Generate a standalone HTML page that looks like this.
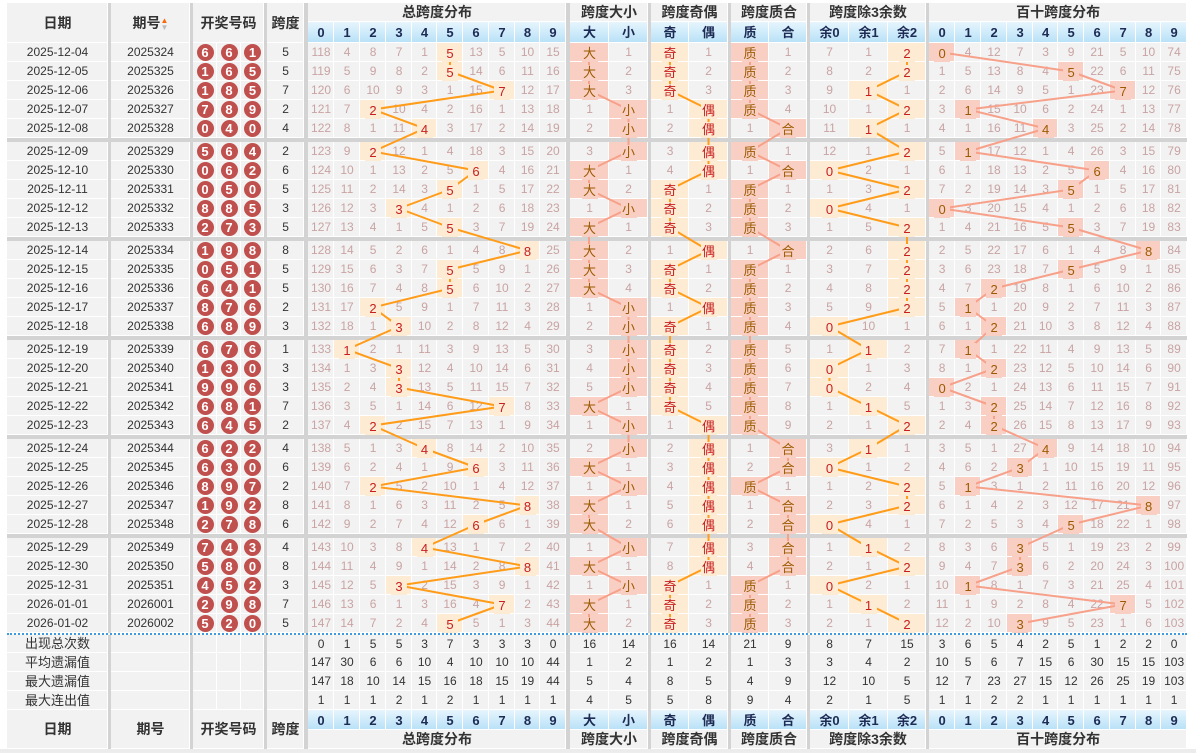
<!DOCTYPE html>
<html><head><meta charset="utf-8"><style>
body{margin:0;width:1196px;height:753px;background:#fff;position:relative;overflow:hidden;font-family:"Liberation Sans","Noto Sans CJK SC",sans-serif}
table{position:absolute;left:7px;top:3px;border-collapse:separate;border-spacing:0;table-layout:fixed;width:1180px}
td{padding:0;height:19px;background:#f2f2f2;text-align:center;font-size:12px;color:#c9a3a3;box-shadow:inset -1px -1px 0 #fff;white-space:nowrap;overflow:hidden;line-height:19px}
td.p{background:#d3d3d3;box-shadow:none}
td.d{color:#333}
td.a{background:#fdebd3;color:#c81e1e;font-size:13px}
td.b{background:#f9cfc4;color:#9c5a00;font-size:13px}
td b{font-weight:normal;position:relative;z-index:3;display:inline-block;width:16px;height:16px;line-height:16px;background:inherit;vertical-align:middle}
i{display:inline-block;width:17px;height:17px;border-radius:50%;background:#c0504d;color:#fff;font-style:normal;font-weight:bold;font-size:13px;line-height:17px;vertical-align:middle}
tr.g td{height:4px;line-height:0;font-size:0;background:#d3d3d3;box-shadow:none}
tr.dot td{height:0px;line-height:0;font-size:0;background:#fff;box-shadow:none;border-top:2px dotted #3d9be0}
td.h{font-weight:bold;font-size:14px;color:#333}
tr.n td{height:20px;background:linear-gradient(#e6f5fd,#b7e1f7);font-weight:bold;font-size:13px;color:#1d2b55}
tr.n td.p{background:#d3d3d3}
tr.n td.h{background:#f2f2f2;color:#333;font-size:14px}
tr.top td{height:21px}
tr.s td{color:#333;height:19px}
tr.s.f td{height:18px;line-height:18px}
tr.s td.p{background:#d3d3d3}
.ar{display:inline-block;width:8px;font-size:8px;line-height:7px;vertical-align:middle}
svg{position:absolute;left:0;top:0;z-index:2}
.bot{position:absolute;left:0;top:749px;width:1196px;height:4px;background:#ececec}
</style></head><body>
<table>
<colgroup><col style="width:101px"><col style="width:3px"><col style="width:79px"><col style="width:3px"><col style="width:24px"><col style="width:24px"><col style="width:23px"><col style="width:3px"><col style="width:37px"><col style="width:4px"><col style="width:26px"><col style="width:26px"><col style="width:26px"><col style="width:26px"><col style="width:25px"><col style="width:26px"><col style="width:26px"><col style="width:26px"><col style="width:25px"><col style="width:26px"><col style="width:4px"><col style="width:39px"><col style="width:39px"><col style="width:3px"><col style="width:38px"><col style="width:39px"><col style="width:3px"><col style="width:38px"><col style="width:38px"><col style="width:3px"><col style="width:39px"><col style="width:39px"><col style="width:38px"><col style="width:3px"><col style="width:26px"><col style="width:26px"><col style="width:26px"><col style="width:26px"><col style="width:25px"><col style="width:26px"><col style="width:26px"><col style="width:26px"><col style="width:25px"><col style="width:26px"></colgroup>
<tr><td rowspan=2 class=h>日期</td><td rowspan=2 class=p></td><td rowspan=2 class=h>期号<span class=ar><span style="color:#f60">▲</span><br><span style="color:#bbb">▼</span></span></td><td rowspan=2 class=p></td><td rowspan=2 colspan=3 class=h>开奖号码</td><td rowspan=2 class=p></td><td rowspan=2 class=h>跨度</td><td rowspan=2 class=p></td><td colspan=10 class=h>总跨度分布</td><td rowspan=2 class=p></td><td colspan=2 class=h>跨度大小</td><td rowspan=2 class=p></td><td colspan=2 class=h>跨度奇偶</td><td rowspan=2 class=p></td><td colspan=2 class=h>跨度质合</td><td rowspan=2 class=p></td><td colspan=3 class=h>跨度除3余数</td><td rowspan=2 class=p></td><td colspan=10 class=h>百十跨度分布</td></tr>
<tr class="n top"><td>0</td><td>1</td><td>2</td><td>3</td><td>4</td><td>5</td><td>6</td><td>7</td><td>8</td><td>9</td><td>大</td><td>小</td><td>奇</td><td>偶</td><td>质</td><td>合</td><td>余0</td><td>余1</td><td>余2</td><td>0</td><td>1</td><td>2</td><td>3</td><td>4</td><td>5</td><td>6</td><td>7</td><td>8</td><td>9</td></tr>

<tr><td class=d>2025-12-04</td><td class=p></td><td class=d>2025324</td><td class=p></td><td><i>6</i></td><td><i>6</i></td><td><i>1</i></td><td class=p></td><td class=d>5</td><td class=p></td><td>118</td><td>4</td><td>8</td><td>7</td><td>1</td><td class=a><b>5</b></td><td>13</td><td>5</td><td>10</td><td>15</td><td class=p></td><td class=b><b>大</b></td><td>1</td><td class=p></td><td class=a><b>奇</b></td><td>1</td><td class=p></td><td class=b><b>质</b></td><td>1</td><td class=p></td><td>7</td><td>1</td><td class=a><b>2</b></td><td class=p></td><td class=b><b>0</b></td><td>4</td><td>12</td><td>7</td><td>3</td><td>9</td><td>21</td><td>5</td><td>10</td><td>74</td></tr>
<tr><td class=d>2025-12-05</td><td class=p></td><td class=d>2025325</td><td class=p></td><td><i>1</i></td><td><i>6</i></td><td><i>5</i></td><td class=p></td><td class=d>5</td><td class=p></td><td>119</td><td>5</td><td>9</td><td>8</td><td>2</td><td class=a><b>5</b></td><td>14</td><td>6</td><td>11</td><td>16</td><td class=p></td><td class=b><b>大</b></td><td>2</td><td class=p></td><td class=a><b>奇</b></td><td>2</td><td class=p></td><td class=b><b>质</b></td><td>2</td><td class=p></td><td>8</td><td>2</td><td class=a><b>2</b></td><td class=p></td><td>1</td><td>5</td><td>13</td><td>8</td><td>4</td><td class=b><b>5</b></td><td>22</td><td>6</td><td>11</td><td>75</td></tr>
<tr><td class=d>2025-12-06</td><td class=p></td><td class=d>2025326</td><td class=p></td><td><i>1</i></td><td><i>8</i></td><td><i>5</i></td><td class=p></td><td class=d>7</td><td class=p></td><td>120</td><td>6</td><td>10</td><td>9</td><td>3</td><td>1</td><td>15</td><td class=a><b>7</b></td><td>12</td><td>17</td><td class=p></td><td class=b><b>大</b></td><td>3</td><td class=p></td><td class=a><b>奇</b></td><td>3</td><td class=p></td><td class=b><b>质</b></td><td>3</td><td class=p></td><td>9</td><td class=a><b>1</b></td><td>1</td><td class=p></td><td>2</td><td>6</td><td>14</td><td>9</td><td>5</td><td>1</td><td>23</td><td class=b><b>7</b></td><td>12</td><td>76</td></tr>
<tr><td class=d>2025-12-07</td><td class=p></td><td class=d>2025327</td><td class=p></td><td><i>7</i></td><td><i>8</i></td><td><i>9</i></td><td class=p></td><td class=d>2</td><td class=p></td><td>121</td><td>7</td><td class=a><b>2</b></td><td>10</td><td>4</td><td>2</td><td>16</td><td>1</td><td>13</td><td>18</td><td class=p></td><td>1</td><td class=b><b>小</b></td><td class=p></td><td>1</td><td class=a><b>偶</b></td><td class=p></td><td class=b><b>质</b></td><td>4</td><td class=p></td><td>10</td><td>1</td><td class=a><b>2</b></td><td class=p></td><td>3</td><td class=b><b>1</b></td><td>15</td><td>10</td><td>6</td><td>2</td><td>24</td><td>1</td><td>13</td><td>77</td></tr>
<tr><td class=d>2025-12-08</td><td class=p></td><td class=d>2025328</td><td class=p></td><td><i>0</i></td><td><i>4</i></td><td><i>0</i></td><td class=p></td><td class=d>4</td><td class=p></td><td>122</td><td>8</td><td>1</td><td>11</td><td class=a><b>4</b></td><td>3</td><td>17</td><td>2</td><td>14</td><td>19</td><td class=p></td><td>2</td><td class=b><b>小</b></td><td class=p></td><td>2</td><td class=a><b>偶</b></td><td class=p></td><td>1</td><td class=b><b>合</b></td><td class=p></td><td>11</td><td class=a><b>1</b></td><td>1</td><td class=p></td><td>4</td><td>1</td><td>16</td><td>11</td><td class=b><b>4</b></td><td>3</td><td>25</td><td>2</td><td>14</td><td>78</td></tr>
<tr class=g><td colspan=44></td></tr>
<tr><td class=d>2025-12-09</td><td class=p></td><td class=d>2025329</td><td class=p></td><td><i>5</i></td><td><i>6</i></td><td><i>4</i></td><td class=p></td><td class=d>2</td><td class=p></td><td>123</td><td>9</td><td class=a><b>2</b></td><td>12</td><td>1</td><td>4</td><td>18</td><td>3</td><td>15</td><td>20</td><td class=p></td><td>3</td><td class=b><b>小</b></td><td class=p></td><td>3</td><td class=a><b>偶</b></td><td class=p></td><td class=b><b>质</b></td><td>1</td><td class=p></td><td>12</td><td>1</td><td class=a><b>2</b></td><td class=p></td><td>5</td><td class=b><b>1</b></td><td>17</td><td>12</td><td>1</td><td>4</td><td>26</td><td>3</td><td>15</td><td>79</td></tr>
<tr><td class=d>2025-12-10</td><td class=p></td><td class=d>2025330</td><td class=p></td><td><i>0</i></td><td><i>6</i></td><td><i>2</i></td><td class=p></td><td class=d>6</td><td class=p></td><td>124</td><td>10</td><td>1</td><td>13</td><td>2</td><td>5</td><td class=a><b>6</b></td><td>4</td><td>16</td><td>21</td><td class=p></td><td class=b><b>大</b></td><td>1</td><td class=p></td><td>4</td><td class=a><b>偶</b></td><td class=p></td><td>1</td><td class=b><b>合</b></td><td class=p></td><td class=a><b>0</b></td><td>2</td><td>1</td><td class=p></td><td>6</td><td>1</td><td>18</td><td>13</td><td>2</td><td>5</td><td class=b><b>6</b></td><td>4</td><td>16</td><td>80</td></tr>
<tr><td class=d>2025-12-11</td><td class=p></td><td class=d>2025331</td><td class=p></td><td><i>0</i></td><td><i>5</i></td><td><i>0</i></td><td class=p></td><td class=d>5</td><td class=p></td><td>125</td><td>11</td><td>2</td><td>14</td><td>3</td><td class=a><b>5</b></td><td>1</td><td>5</td><td>17</td><td>22</td><td class=p></td><td class=b><b>大</b></td><td>2</td><td class=p></td><td class=a><b>奇</b></td><td>1</td><td class=p></td><td class=b><b>质</b></td><td>1</td><td class=p></td><td>1</td><td>3</td><td class=a><b>2</b></td><td class=p></td><td>7</td><td>2</td><td>19</td><td>14</td><td>3</td><td class=b><b>5</b></td><td>1</td><td>5</td><td>17</td><td>81</td></tr>
<tr><td class=d>2025-12-12</td><td class=p></td><td class=d>2025332</td><td class=p></td><td><i>8</i></td><td><i>8</i></td><td><i>5</i></td><td class=p></td><td class=d>3</td><td class=p></td><td>126</td><td>12</td><td>3</td><td class=a><b>3</b></td><td>4</td><td>1</td><td>2</td><td>6</td><td>18</td><td>23</td><td class=p></td><td>1</td><td class=b><b>小</b></td><td class=p></td><td class=a><b>奇</b></td><td>2</td><td class=p></td><td class=b><b>质</b></td><td>2</td><td class=p></td><td class=a><b>0</b></td><td>4</td><td>1</td><td class=p></td><td class=b><b>0</b></td><td>3</td><td>20</td><td>15</td><td>4</td><td>1</td><td>2</td><td>6</td><td>18</td><td>82</td></tr>
<tr><td class=d>2025-12-13</td><td class=p></td><td class=d>2025333</td><td class=p></td><td><i>2</i></td><td><i>7</i></td><td><i>3</i></td><td class=p></td><td class=d>5</td><td class=p></td><td>127</td><td>13</td><td>4</td><td>1</td><td>5</td><td class=a><b>5</b></td><td>3</td><td>7</td><td>19</td><td>24</td><td class=p></td><td class=b><b>大</b></td><td>1</td><td class=p></td><td class=a><b>奇</b></td><td>3</td><td class=p></td><td class=b><b>质</b></td><td>3</td><td class=p></td><td>1</td><td>5</td><td class=a><b>2</b></td><td class=p></td><td>1</td><td>4</td><td>21</td><td>16</td><td>5</td><td class=b><b>5</b></td><td>3</td><td>7</td><td>19</td><td>83</td></tr>
<tr class=g><td colspan=44></td></tr>
<tr><td class=d>2025-12-14</td><td class=p></td><td class=d>2025334</td><td class=p></td><td><i>1</i></td><td><i>9</i></td><td><i>8</i></td><td class=p></td><td class=d>8</td><td class=p></td><td>128</td><td>14</td><td>5</td><td>2</td><td>6</td><td>1</td><td>4</td><td>8</td><td class=a><b>8</b></td><td>25</td><td class=p></td><td class=b><b>大</b></td><td>2</td><td class=p></td><td>1</td><td class=a><b>偶</b></td><td class=p></td><td>1</td><td class=b><b>合</b></td><td class=p></td><td>2</td><td>6</td><td class=a><b>2</b></td><td class=p></td><td>2</td><td>5</td><td>22</td><td>17</td><td>6</td><td>1</td><td>4</td><td>8</td><td class=b><b>8</b></td><td>84</td></tr>
<tr><td class=d>2025-12-15</td><td class=p></td><td class=d>2025335</td><td class=p></td><td><i>0</i></td><td><i>5</i></td><td><i>1</i></td><td class=p></td><td class=d>5</td><td class=p></td><td>129</td><td>15</td><td>6</td><td>3</td><td>7</td><td class=a><b>5</b></td><td>5</td><td>9</td><td>1</td><td>26</td><td class=p></td><td class=b><b>大</b></td><td>3</td><td class=p></td><td class=a><b>奇</b></td><td>1</td><td class=p></td><td class=b><b>质</b></td><td>1</td><td class=p></td><td>3</td><td>7</td><td class=a><b>2</b></td><td class=p></td><td>3</td><td>6</td><td>23</td><td>18</td><td>7</td><td class=b><b>5</b></td><td>5</td><td>9</td><td>1</td><td>85</td></tr>
<tr><td class=d>2025-12-16</td><td class=p></td><td class=d>2025336</td><td class=p></td><td><i>6</i></td><td><i>4</i></td><td><i>1</i></td><td class=p></td><td class=d>5</td><td class=p></td><td>130</td><td>16</td><td>7</td><td>4</td><td>8</td><td class=a><b>5</b></td><td>6</td><td>10</td><td>2</td><td>27</td><td class=p></td><td class=b><b>大</b></td><td>4</td><td class=p></td><td class=a><b>奇</b></td><td>2</td><td class=p></td><td class=b><b>质</b></td><td>2</td><td class=p></td><td>4</td><td>8</td><td class=a><b>2</b></td><td class=p></td><td>4</td><td>7</td><td class=b><b>2</b></td><td>19</td><td>8</td><td>1</td><td>6</td><td>10</td><td>2</td><td>86</td></tr>
<tr><td class=d>2025-12-17</td><td class=p></td><td class=d>2025337</td><td class=p></td><td><i>8</i></td><td><i>7</i></td><td><i>6</i></td><td class=p></td><td class=d>2</td><td class=p></td><td>131</td><td>17</td><td class=a><b>2</b></td><td>5</td><td>9</td><td>1</td><td>7</td><td>11</td><td>3</td><td>28</td><td class=p></td><td>1</td><td class=b><b>小</b></td><td class=p></td><td>1</td><td class=a><b>偶</b></td><td class=p></td><td class=b><b>质</b></td><td>3</td><td class=p></td><td>5</td><td>9</td><td class=a><b>2</b></td><td class=p></td><td>5</td><td class=b><b>1</b></td><td>1</td><td>20</td><td>9</td><td>2</td><td>7</td><td>11</td><td>3</td><td>87</td></tr>
<tr><td class=d>2025-12-18</td><td class=p></td><td class=d>2025338</td><td class=p></td><td><i>6</i></td><td><i>8</i></td><td><i>9</i></td><td class=p></td><td class=d>3</td><td class=p></td><td>132</td><td>18</td><td>1</td><td class=a><b>3</b></td><td>10</td><td>2</td><td>8</td><td>12</td><td>4</td><td>29</td><td class=p></td><td>2</td><td class=b><b>小</b></td><td class=p></td><td class=a><b>奇</b></td><td>1</td><td class=p></td><td class=b><b>质</b></td><td>4</td><td class=p></td><td class=a><b>0</b></td><td>10</td><td>1</td><td class=p></td><td>6</td><td>1</td><td class=b><b>2</b></td><td>21</td><td>10</td><td>3</td><td>8</td><td>12</td><td>4</td><td>88</td></tr>
<tr class=g><td colspan=44></td></tr>
<tr><td class=d>2025-12-19</td><td class=p></td><td class=d>2025339</td><td class=p></td><td><i>6</i></td><td><i>7</i></td><td><i>6</i></td><td class=p></td><td class=d>1</td><td class=p></td><td>133</td><td class=a><b>1</b></td><td>2</td><td>1</td><td>11</td><td>3</td><td>9</td><td>13</td><td>5</td><td>30</td><td class=p></td><td>3</td><td class=b><b>小</b></td><td class=p></td><td class=a><b>奇</b></td><td>2</td><td class=p></td><td class=b><b>质</b></td><td>5</td><td class=p></td><td>1</td><td class=a><b>1</b></td><td>2</td><td class=p></td><td>7</td><td class=b><b>1</b></td><td>1</td><td>22</td><td>11</td><td>4</td><td>9</td><td>13</td><td>5</td><td>89</td></tr>
<tr><td class=d>2025-12-20</td><td class=p></td><td class=d>2025340</td><td class=p></td><td><i>1</i></td><td><i>3</i></td><td><i>0</i></td><td class=p></td><td class=d>3</td><td class=p></td><td>134</td><td>1</td><td>3</td><td class=a><b>3</b></td><td>12</td><td>4</td><td>10</td><td>14</td><td>6</td><td>31</td><td class=p></td><td>4</td><td class=b><b>小</b></td><td class=p></td><td class=a><b>奇</b></td><td>3</td><td class=p></td><td class=b><b>质</b></td><td>6</td><td class=p></td><td class=a><b>0</b></td><td>1</td><td>3</td><td class=p></td><td>8</td><td>1</td><td class=b><b>2</b></td><td>23</td><td>12</td><td>5</td><td>10</td><td>14</td><td>6</td><td>90</td></tr>
<tr><td class=d>2025-12-21</td><td class=p></td><td class=d>2025341</td><td class=p></td><td><i>9</i></td><td><i>9</i></td><td><i>6</i></td><td class=p></td><td class=d>3</td><td class=p></td><td>135</td><td>2</td><td>4</td><td class=a><b>3</b></td><td>13</td><td>5</td><td>11</td><td>15</td><td>7</td><td>32</td><td class=p></td><td>5</td><td class=b><b>小</b></td><td class=p></td><td class=a><b>奇</b></td><td>4</td><td class=p></td><td class=b><b>质</b></td><td>7</td><td class=p></td><td class=a><b>0</b></td><td>2</td><td>4</td><td class=p></td><td class=b><b>0</b></td><td>2</td><td>1</td><td>24</td><td>13</td><td>6</td><td>11</td><td>15</td><td>7</td><td>91</td></tr>
<tr><td class=d>2025-12-22</td><td class=p></td><td class=d>2025342</td><td class=p></td><td><i>6</i></td><td><i>8</i></td><td><i>1</i></td><td class=p></td><td class=d>7</td><td class=p></td><td>136</td><td>3</td><td>5</td><td>1</td><td>14</td><td>6</td><td>12</td><td class=a><b>7</b></td><td>8</td><td>33</td><td class=p></td><td class=b><b>大</b></td><td>1</td><td class=p></td><td class=a><b>奇</b></td><td>5</td><td class=p></td><td class=b><b>质</b></td><td>8</td><td class=p></td><td>1</td><td class=a><b>1</b></td><td>5</td><td class=p></td><td>1</td><td>3</td><td class=b><b>2</b></td><td>25</td><td>14</td><td>7</td><td>12</td><td>16</td><td>8</td><td>92</td></tr>
<tr><td class=d>2025-12-23</td><td class=p></td><td class=d>2025343</td><td class=p></td><td><i>6</i></td><td><i>4</i></td><td><i>5</i></td><td class=p></td><td class=d>2</td><td class=p></td><td>137</td><td>4</td><td class=a><b>2</b></td><td>2</td><td>15</td><td>7</td><td>13</td><td>1</td><td>9</td><td>34</td><td class=p></td><td>1</td><td class=b><b>小</b></td><td class=p></td><td>1</td><td class=a><b>偶</b></td><td class=p></td><td class=b><b>质</b></td><td>9</td><td class=p></td><td>2</td><td>1</td><td class=a><b>2</b></td><td class=p></td><td>2</td><td>4</td><td class=b><b>2</b></td><td>26</td><td>15</td><td>8</td><td>13</td><td>17</td><td>9</td><td>93</td></tr>
<tr class=g><td colspan=44></td></tr>
<tr><td class=d>2025-12-24</td><td class=p></td><td class=d>2025344</td><td class=p></td><td><i>6</i></td><td><i>2</i></td><td><i>2</i></td><td class=p></td><td class=d>4</td><td class=p></td><td>138</td><td>5</td><td>1</td><td>3</td><td class=a><b>4</b></td><td>8</td><td>14</td><td>2</td><td>10</td><td>35</td><td class=p></td><td>2</td><td class=b><b>小</b></td><td class=p></td><td>2</td><td class=a><b>偶</b></td><td class=p></td><td>1</td><td class=b><b>合</b></td><td class=p></td><td>3</td><td class=a><b>1</b></td><td>1</td><td class=p></td><td>3</td><td>5</td><td>1</td><td>27</td><td class=b><b>4</b></td><td>9</td><td>14</td><td>18</td><td>10</td><td>94</td></tr>
<tr><td class=d>2025-12-25</td><td class=p></td><td class=d>2025345</td><td class=p></td><td><i>6</i></td><td><i>3</i></td><td><i>0</i></td><td class=p></td><td class=d>6</td><td class=p></td><td>139</td><td>6</td><td>2</td><td>4</td><td>1</td><td>9</td><td class=a><b>6</b></td><td>3</td><td>11</td><td>36</td><td class=p></td><td class=b><b>大</b></td><td>1</td><td class=p></td><td>3</td><td class=a><b>偶</b></td><td class=p></td><td>2</td><td class=b><b>合</b></td><td class=p></td><td class=a><b>0</b></td><td>1</td><td>2</td><td class=p></td><td>4</td><td>6</td><td>2</td><td class=b><b>3</b></td><td>1</td><td>10</td><td>15</td><td>19</td><td>11</td><td>95</td></tr>
<tr><td class=d>2025-12-26</td><td class=p></td><td class=d>2025346</td><td class=p></td><td><i>8</i></td><td><i>9</i></td><td><i>7</i></td><td class=p></td><td class=d>2</td><td class=p></td><td>140</td><td>7</td><td class=a><b>2</b></td><td>5</td><td>2</td><td>10</td><td>1</td><td>4</td><td>12</td><td>37</td><td class=p></td><td>1</td><td class=b><b>小</b></td><td class=p></td><td>4</td><td class=a><b>偶</b></td><td class=p></td><td class=b><b>质</b></td><td>1</td><td class=p></td><td>1</td><td>2</td><td class=a><b>2</b></td><td class=p></td><td>5</td><td class=b><b>1</b></td><td>3</td><td>1</td><td>2</td><td>11</td><td>16</td><td>20</td><td>12</td><td>96</td></tr>
<tr><td class=d>2025-12-27</td><td class=p></td><td class=d>2025347</td><td class=p></td><td><i>1</i></td><td><i>9</i></td><td><i>2</i></td><td class=p></td><td class=d>8</td><td class=p></td><td>141</td><td>8</td><td>1</td><td>6</td><td>3</td><td>11</td><td>2</td><td>5</td><td class=a><b>8</b></td><td>38</td><td class=p></td><td class=b><b>大</b></td><td>1</td><td class=p></td><td>5</td><td class=a><b>偶</b></td><td class=p></td><td>1</td><td class=b><b>合</b></td><td class=p></td><td>2</td><td>3</td><td class=a><b>2</b></td><td class=p></td><td>6</td><td>1</td><td>4</td><td>2</td><td>3</td><td>12</td><td>17</td><td>21</td><td class=b><b>8</b></td><td>97</td></tr>
<tr><td class=d>2025-12-28</td><td class=p></td><td class=d>2025348</td><td class=p></td><td><i>2</i></td><td><i>7</i></td><td><i>8</i></td><td class=p></td><td class=d>6</td><td class=p></td><td>142</td><td>9</td><td>2</td><td>7</td><td>4</td><td>12</td><td class=a><b>6</b></td><td>6</td><td>1</td><td>39</td><td class=p></td><td class=b><b>大</b></td><td>2</td><td class=p></td><td>6</td><td class=a><b>偶</b></td><td class=p></td><td>2</td><td class=b><b>合</b></td><td class=p></td><td class=a><b>0</b></td><td>4</td><td>1</td><td class=p></td><td>7</td><td>2</td><td>5</td><td>3</td><td>4</td><td class=b><b>5</b></td><td>18</td><td>22</td><td>1</td><td>98</td></tr>
<tr class=g><td colspan=44></td></tr>
<tr><td class=d>2025-12-29</td><td class=p></td><td class=d>2025349</td><td class=p></td><td><i>7</i></td><td><i>4</i></td><td><i>3</i></td><td class=p></td><td class=d>4</td><td class=p></td><td>143</td><td>10</td><td>3</td><td>8</td><td class=a><b>4</b></td><td>13</td><td>1</td><td>7</td><td>2</td><td>40</td><td class=p></td><td>1</td><td class=b><b>小</b></td><td class=p></td><td>7</td><td class=a><b>偶</b></td><td class=p></td><td>3</td><td class=b><b>合</b></td><td class=p></td><td>1</td><td class=a><b>1</b></td><td>2</td><td class=p></td><td>8</td><td>3</td><td>6</td><td class=b><b>3</b></td><td>5</td><td>1</td><td>19</td><td>23</td><td>2</td><td>99</td></tr>
<tr><td class=d>2025-12-30</td><td class=p></td><td class=d>2025350</td><td class=p></td><td><i>5</i></td><td><i>8</i></td><td><i>0</i></td><td class=p></td><td class=d>8</td><td class=p></td><td>144</td><td>11</td><td>4</td><td>9</td><td>1</td><td>14</td><td>2</td><td>8</td><td class=a><b>8</b></td><td>41</td><td class=p></td><td class=b><b>大</b></td><td>1</td><td class=p></td><td>8</td><td class=a><b>偶</b></td><td class=p></td><td>4</td><td class=b><b>合</b></td><td class=p></td><td>2</td><td>1</td><td class=a><b>2</b></td><td class=p></td><td>9</td><td>4</td><td>7</td><td class=b><b>3</b></td><td>6</td><td>2</td><td>20</td><td>24</td><td>3</td><td>100</td></tr>
<tr><td class=d>2025-12-31</td><td class=p></td><td class=d>2025351</td><td class=p></td><td><i>4</i></td><td><i>5</i></td><td><i>2</i></td><td class=p></td><td class=d>3</td><td class=p></td><td>145</td><td>12</td><td>5</td><td class=a><b>3</b></td><td>2</td><td>15</td><td>3</td><td>9</td><td>1</td><td>42</td><td class=p></td><td>1</td><td class=b><b>小</b></td><td class=p></td><td class=a><b>奇</b></td><td>1</td><td class=p></td><td class=b><b>质</b></td><td>1</td><td class=p></td><td class=a><b>0</b></td><td>2</td><td>1</td><td class=p></td><td>10</td><td class=b><b>1</b></td><td>8</td><td>1</td><td>7</td><td>3</td><td>21</td><td>25</td><td>4</td><td>101</td></tr>
<tr><td class=d>2026-01-01</td><td class=p></td><td class=d>2026001</td><td class=p></td><td><i>2</i></td><td><i>9</i></td><td><i>8</i></td><td class=p></td><td class=d>7</td><td class=p></td><td>146</td><td>13</td><td>6</td><td>1</td><td>3</td><td>16</td><td>4</td><td class=a><b>7</b></td><td>2</td><td>43</td><td class=p></td><td class=b><b>大</b></td><td>1</td><td class=p></td><td class=a><b>奇</b></td><td>2</td><td class=p></td><td class=b><b>质</b></td><td>2</td><td class=p></td><td>1</td><td class=a><b>1</b></td><td>2</td><td class=p></td><td>11</td><td>1</td><td>9</td><td>2</td><td>8</td><td>4</td><td>22</td><td class=b><b>7</b></td><td>5</td><td>102</td></tr>
<tr><td class=d>2026-01-02</td><td class=p></td><td class=d>2026002</td><td class=p></td><td><i>5</i></td><td><i>2</i></td><td><i>0</i></td><td class=p></td><td class=d>5</td><td class=p></td><td>147</td><td>14</td><td>7</td><td>2</td><td>4</td><td class=a><b>5</b></td><td>5</td><td>1</td><td>3</td><td>44</td><td class=p></td><td class=b><b>大</b></td><td>2</td><td class=p></td><td class=a><b>奇</b></td><td>3</td><td class=p></td><td class=b><b>质</b></td><td>3</td><td class=p></td><td>2</td><td>1</td><td class=a><b>2</b></td><td class=p></td><td>12</td><td>2</td><td>10</td><td class=b><b>3</b></td><td>9</td><td>5</td><td>23</td><td>1</td><td>6</td><td>103</td></tr>
<tr class=dot><td colspan=44></td></tr>
<tr class="s f"><td style="font-size:13px">出现总次数</td><td class=p></td><td></td><td class=p></td><td></td><td></td><td></td><td class=p></td><td></td><td class=p></td><td>0</td><td>1</td><td>5</td><td>5</td><td>3</td><td>7</td><td>3</td><td>3</td><td>3</td><td>0</td><td class=p></td><td>16</td><td>14</td><td class=p></td><td>16</td><td>14</td><td class=p></td><td>21</td><td>9</td><td class=p></td><td>8</td><td>7</td><td>15</td><td class=p></td><td>3</td><td>6</td><td>5</td><td>4</td><td>2</td><td>5</td><td>1</td><td>2</td><td>2</td><td>0</td></tr>
<tr class=s><td style="font-size:13px">平均遗漏值</td><td class=p></td><td></td><td class=p></td><td></td><td></td><td></td><td class=p></td><td></td><td class=p></td><td>147</td><td>30</td><td>6</td><td>6</td><td>10</td><td>4</td><td>10</td><td>10</td><td>10</td><td>44</td><td class=p></td><td>1</td><td>2</td><td class=p></td><td>1</td><td>2</td><td class=p></td><td>1</td><td>3</td><td class=p></td><td>3</td><td>4</td><td>2</td><td class=p></td><td>10</td><td>5</td><td>6</td><td>7</td><td>15</td><td>6</td><td>30</td><td>15</td><td>15</td><td>103</td></tr>
<tr class=s><td style="font-size:13px">最大遗漏值</td><td class=p></td><td></td><td class=p></td><td></td><td></td><td></td><td class=p></td><td></td><td class=p></td><td>147</td><td>18</td><td>10</td><td>14</td><td>15</td><td>16</td><td>18</td><td>15</td><td>19</td><td>44</td><td class=p></td><td>5</td><td>4</td><td class=p></td><td>8</td><td>5</td><td class=p></td><td>4</td><td>9</td><td class=p></td><td>12</td><td>10</td><td>5</td><td class=p></td><td>12</td><td>7</td><td>23</td><td>27</td><td>15</td><td>12</td><td>26</td><td>25</td><td>19</td><td>103</td></tr>
<tr class=s><td style="font-size:13px">最大连出值</td><td class=p></td><td></td><td class=p></td><td></td><td></td><td></td><td class=p></td><td></td><td class=p></td><td>1</td><td>1</td><td>1</td><td>2</td><td>1</td><td>2</td><td>1</td><td>1</td><td>1</td><td>1</td><td class=p></td><td>4</td><td>5</td><td class=p></td><td>5</td><td>8</td><td class=p></td><td>9</td><td>4</td><td class=p></td><td>2</td><td>1</td><td>5</td><td class=p></td><td>1</td><td>1</td><td>2</td><td>2</td><td>1</td><td>1</td><td>1</td><td>1</td><td>1</td><td>1</td></tr>
<tr class=n><td rowspan=2 class=h>日期</td><td rowspan=2 class=p></td><td rowspan=2 class=h>期号</td><td rowspan=2 class=p></td><td rowspan=2 colspan=3 class=h>开奖号码</td><td rowspan=2 class=p></td><td rowspan=2 class=h>跨度</td><td rowspan=2 class=p></td><td>0</td><td>1</td><td>2</td><td>3</td><td>4</td><td>5</td><td>6</td><td>7</td><td>8</td><td>9</td><td rowspan=2 class=p></td><td>大</td><td>小</td><td rowspan=2 class=p></td><td>奇</td><td>偶</td><td rowspan=2 class=p></td><td>质</td><td>合</td><td rowspan=2 class=p></td><td>余0</td><td>余1</td><td>余2</td><td rowspan=2 class=p></td><td>0</td><td>1</td><td>2</td><td>3</td><td>4</td><td>5</td><td>6</td><td>7</td><td>8</td><td>9</td></tr>
<tr><td colspan=10 class=h>总跨度分布</td><td colspan=2 class=h>跨度大小</td><td colspan=2 class=h>跨度奇偶</td><td colspan=2 class=h>跨度质合</td><td colspan=3 class=h>跨度除3余数</td><td colspan=10 class=h>百十跨度分布</td></tr>
</table>
<svg width="1196" height="753" fill="none" stroke-width="2" stroke-linejoin="round">
<polyline stroke="#ff9c1a" points="450,52.5 450,71.5 502,90.5 373,109.5 424.5,128.5 373,151.5 476,170.5 450,189.5 399,208.5 450,227.5 527.5,250.5 450,269.5 450,288.5 373,307.5 399,326.5 347,349.5 399,368.5 399,387.5 502,406.5 373,425.5 424.5,448.5 476,467.5 373,486.5 527.5,505.5 476,524.5 424.5,547.5 527.5,566.5 399,585.5 502,604.5 450,623.5"/>
<polyline stroke="#f7a08a" points="589,52.5 589,71.5 589,90.5 628.5,109.5 628.5,128.5 628.5,151.5 589,170.5 589,189.5 628.5,208.5 589,227.5 589,250.5 589,269.5 589,288.5 628.5,307.5 628.5,326.5 628.5,349.5 628.5,368.5 628.5,387.5 589,406.5 628.5,425.5 628.5,448.5 589,467.5 628.5,486.5 589,505.5 589,524.5 628.5,547.5 589,566.5 628.5,585.5 589,604.5 589,623.5"/>
<polyline stroke="#ff9c1a" points="670,52.5 670,71.5 670,90.5 708.5,109.5 708.5,128.5 708.5,151.5 708.5,170.5 670,189.5 670,208.5 670,227.5 708.5,250.5 670,269.5 670,288.5 708.5,307.5 670,326.5 670,349.5 670,368.5 670,387.5 670,406.5 708.5,425.5 708.5,448.5 708.5,467.5 708.5,486.5 708.5,505.5 708.5,524.5 708.5,547.5 708.5,566.5 670,585.5 670,604.5 670,623.5"/>
<polyline stroke="#f7a08a" points="750,52.5 750,71.5 750,90.5 750,109.5 788,128.5 750,151.5 788,170.5 750,189.5 750,208.5 750,227.5 788,250.5 750,269.5 750,288.5 750,307.5 750,326.5 750,349.5 750,368.5 750,387.5 750,406.5 750,425.5 788,448.5 788,467.5 750,486.5 788,505.5 788,524.5 788,547.5 788,566.5 750,585.5 750,604.5 750,623.5"/>
<polyline stroke="#ff9c1a" points="907,52.5 907,71.5 868.5,90.5 907,109.5 868.5,128.5 907,151.5 829.5,170.5 907,189.5 829.5,208.5 907,227.5 907,250.5 907,269.5 907,288.5 907,307.5 829.5,326.5 868.5,349.5 829.5,368.5 829.5,387.5 868.5,406.5 907,425.5 868.5,448.5 829.5,467.5 907,486.5 907,505.5 829.5,524.5 868.5,547.5 907,566.5 829.5,585.5 868.5,604.5 907,623.5"/>
<polyline stroke="#f7a08a" points="942,52.5 1071,71.5 1123,90.5 968,109.5 1045.5,128.5 968,151.5 1097,170.5 1071,189.5 942,208.5 1071,227.5 1148.5,250.5 1071,269.5 994,288.5 968,307.5 994,326.5 968,349.5 994,368.5 942,387.5 994,406.5 994,425.5 1045.5,448.5 1020,467.5 968,486.5 1148.5,505.5 1071,524.5 1020,547.5 1020,566.5 968,585.5 1123,604.5 1020,623.5"/>
</svg>
<div class="bot"></div>
</body></html>
